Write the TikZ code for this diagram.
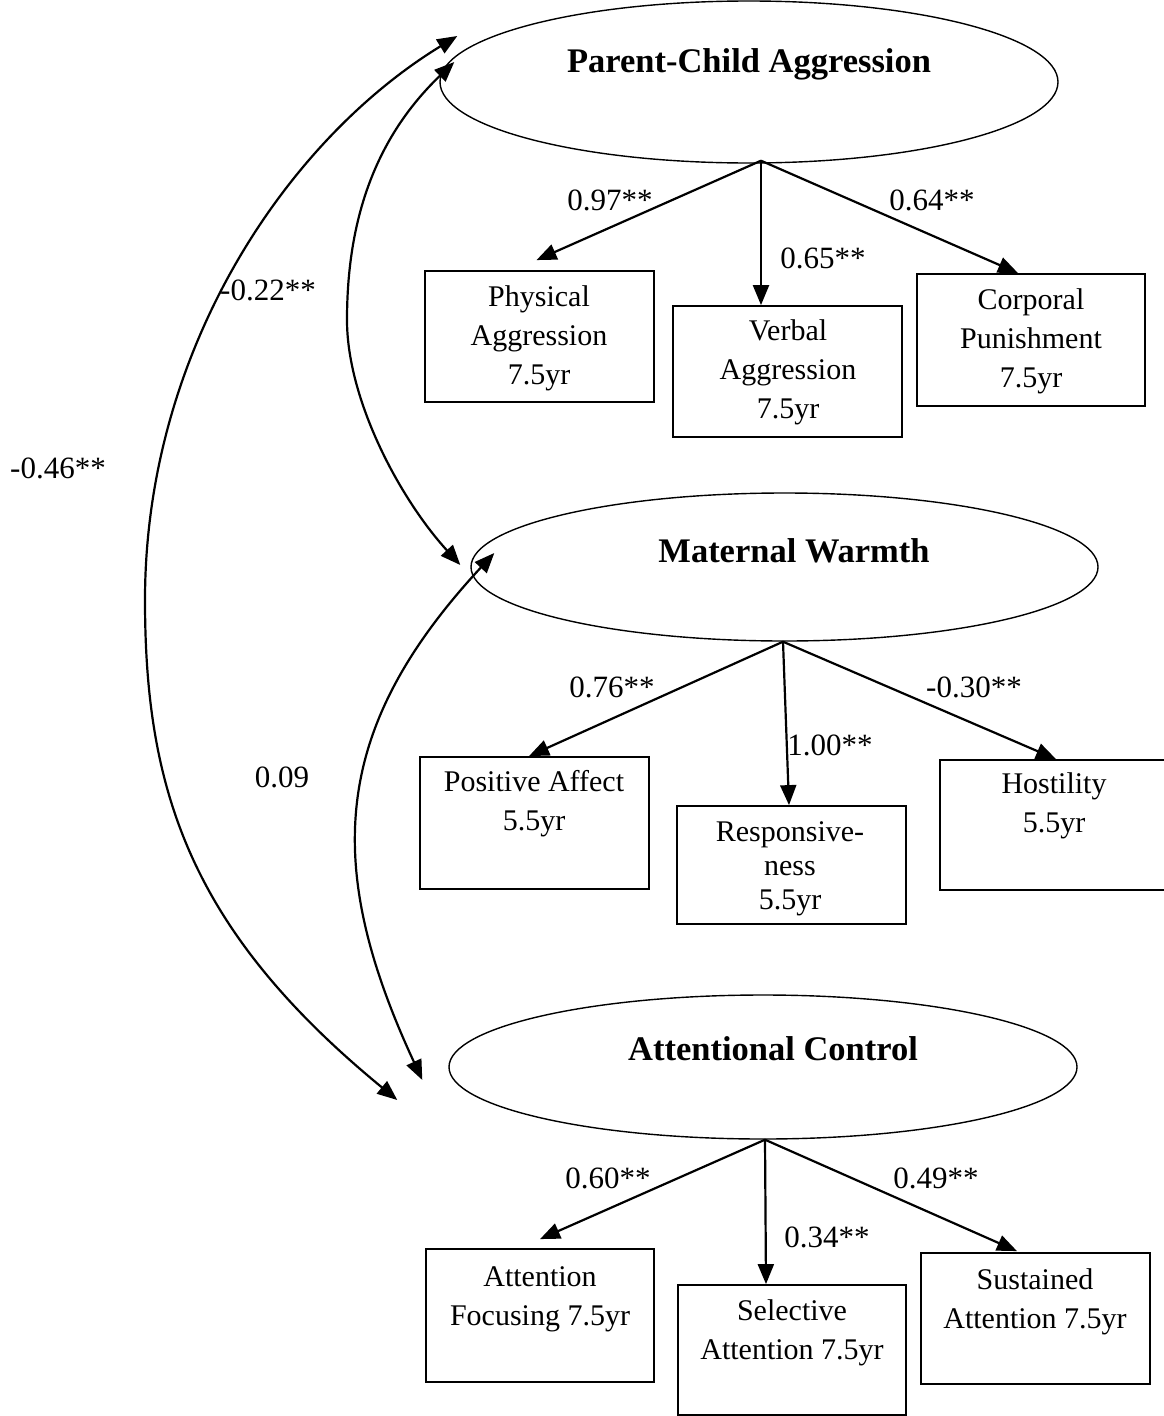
\documentclass[tikz,border=0pt]{standalone}
\usepackage{fontspec}
\setmainfont{Liberation Serif}
\usetikzlibrary{arrows.meta,shapes.geometric,calc}
\begin{document}
\begin{tikzpicture}[x=1pt,y=-1pt,
  lat/.style={ellipse, draw, line width=1.4pt, inner sep=0pt},
  obs/.style={rectangle, draw, line width=1.8pt, inner sep=0pt, minimum width=229pt, minimum height=131pt},
  txt/.style={align=center, font=\fontsize{30}{39}\selectfont, inner sep=0pt},
  ttl/.style={font=\fontsize{34.5}{40}\selectfont\bfseries, inner sep=0pt},
  coef/.style={font=\fontsize{31}{36}\selectfont, inner sep=0pt},
  load/.style={-{Triangle[length=20pt,width=16pt]}, line width=2.2pt},
  cov/.style={{Triangle[length=20pt,width=16pt]}-{Triangle[length=20pt,width=16pt]}, line width=2.2pt}]
\useasboundingbox (0,0) rectangle (1164,1416);

% latent variables
\node[lat, minimum width=618pt, minimum height=162pt] (pca) at (749,82) {};
\node[ttl] (pcat) at (749,64) {Parent-Child Aggression};
\node[lat, minimum width=627pt, minimum height=148pt] (mw) at (784.5,567) {};
\node[ttl] (mwt) at (794,551) {Maternal Warmth};
\node[lat, minimum width=628pt, minimum height=144pt] (ac) at (763,1067) {};
\node[ttl] (act) at (773,1049) {Attentional Control};

% indicators of parent-child aggression
\node[obs] (pa) at (539.5,336.5) {};
\node[txt] (pat) at (539,338) {Physical\\Aggression\\7.5yr};
\node[obs] (va) at (787.5,371.5) {};
\node[txt] (vat) at (788,372) {Verbal\\Aggression\\7.5yr};
\node[obs, minimum width=228pt, minimum height=132pt] (cp) at (1031,340) {};
\node[txt] (cpt) at (1031,341) {Corporal\\Punishment\\7.5yr};

% indicators of maternal warmth
\node[obs, minimum height=132pt] (posa) at (534.5,823) {};
\node[txt] (posat) at (534,804) {Positive Affect\\5.5yr};
\node[obs, minimum height=118pt] (resp) at (791.5,865) {};
\node[txt, font=\fontsize{30}{34}\selectfont] (respt) at (790,869) {Responsive-\\ness\\5.5yr};
\node[obs, minimum width=232pt, minimum height=130pt] (host) at (1056,825) {};
\node[txt] (hostt) at (1054,806) {Hostility\\5.5yr};

% indicators of attentional control
\node[obs, minimum width=228pt, minimum height=133pt] (af) at (540,1315.5) {};
\node[txt] (aft) at (540,1299) {Attention\\Focusing 7.5yr};
\node[obs, minimum width=228pt, minimum height=130pt] (sa) at (792,1350) {};
\node[txt] (sat) at (792,1333) {Selective\\Attention 7.5yr};
\node[obs] (sua) at (1035.5,1318.5) {};
\node[txt] (suat) at (1035,1302) {Sustained\\Attention 7.5yr};

% loadings
\coordinate (pcao) at ($(pca.south)+(12,-3)$);
\draw[load] (pcao) -- ($(pa.north)+(-3,-10)$);
\draw[load] (pcao) -- ($(va.north)+(-26.5,0)$);
\draw[load] (pcao) -- ($(cp.north)+(-13,0)$);
\node[coef] (l1) at (610,200) {0.97**};
\node[coef] (l2) at (823,258) {0.65**};
\node[coef] (l3) at (932,200) {0.64**};

\coordinate (mwo) at ($(mw.south)+(-1.5,0)$);
\draw[load] (mwo) -- ($(posa.north)+(-5.5,0)$);
\draw[load] (mwo) -- ($(resp.north)+(-2.5,0)$);
\draw[load] (mwo) -- ($(host.north)+(0,0)$);
\node[coef] (l4) at (612,687) {0.76**};
\node[coef] (l5) at (830,745) {1.00**};
\node[coef] (l6) at (974,687) {-0.30**};

\coordinate (aco) at ($(ac.south)+(2,0)$);
\draw[load] (aco) -- ($(af.north)+(0,-9)$);
\draw[load] (aco) -- ($(sa.north)+(-26,0)$);
\draw[load] (aco) -- ($(sua.north)+(-18.5,-1)$);
\node[coef] (l7) at (608,1178) {0.60**};
\node[coef] (l8) at (827,1237) {0.34**};
\node[coef] (l9) at (936,1178) {0.49**};

% covariances
\coordinate (c1a) at ($(pca.west)+(18,-46)$);
\coordinate (c1m) at (145,600);
\coordinate (c1b) at ($(ac.west)+(-51,33)$);
\draw[cov] (c1a) .. controls (287,140) and (145,350) .. (c1m)
               .. controls (145,790) and (190,930) .. (c1b);
\coordinate (c2a) at ($(pca.west)+(15,-20)$);
\coordinate (c2m) at (347,320);
\coordinate (c2b) at ($(mw.west)+(-10,-2)$);
\draw[cov] (c2a) .. controls (375,138) and (347,220) .. (c2m)
               .. controls (347,400) and (400,499) .. (c2b);
\coordinate (c3a) at ($(mw.west)+(24,-14)$);
\coordinate (c3b) at ($(ac.west)+(-26,13)$);
\draw[cov] (c3a) .. controls (332,728) and (322,864) .. (c3b);
\node[coef] (k1) at (268,290) {-0.22**};
\node[coef] (k2) at (58,468) {-0.46**};
\node[coef] (k3) at (282,777) {0.09};
\end{tikzpicture}
\end{document}
